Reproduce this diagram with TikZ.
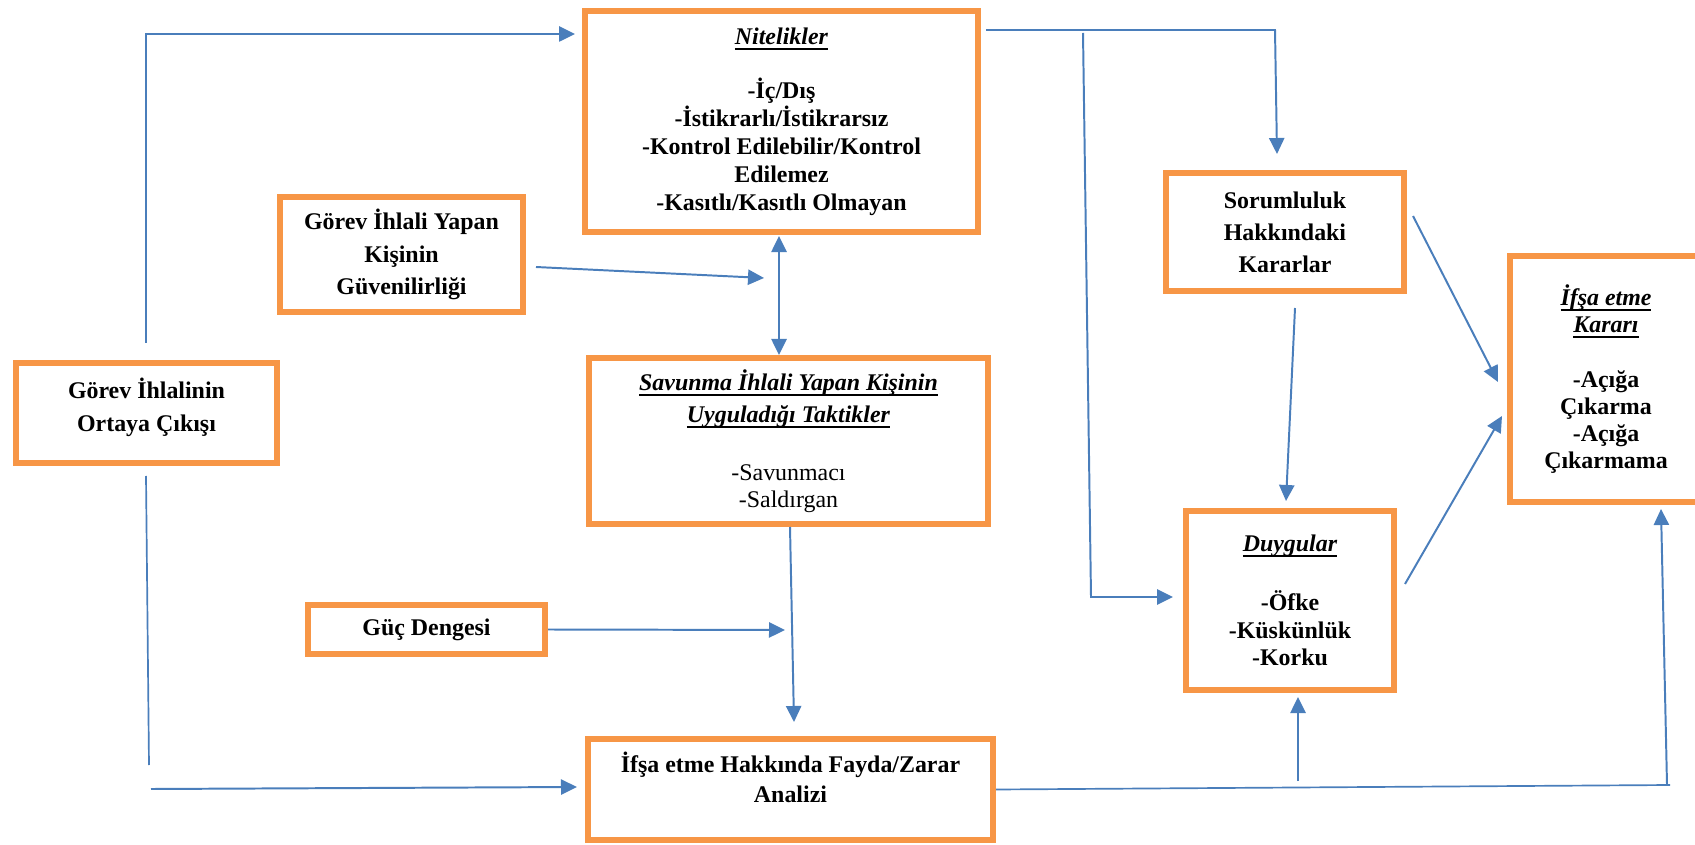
\documentclass[tikz,border=0pt]{standalone}
\usepackage{fontspec}
\setmainfont{Liberation Serif}
\usetikzlibrary{arrows.meta}

\definecolor{turuncu}{RGB}{247,150,70}
\definecolor{mavi}{RGB}{74,126,187}
\newsavebox{\baslikkutu}
\newcommand{\baslik}[1]{\sbox{\baslikkutu}{\textit{#1}}%
  \rlap{\vrule width \wd\baslikkutu height -2.6pt depth 4.0pt}\usebox{\baslikkutu}}

\begin{document}
\begin{tikzpicture}[x=0.025cm,y=-0.025cm,
  >={Triangle[length=0.4cm,width=0.38cm]},
  kutu/.style={draw=turuncu,line width=0.15cm,align=center,inner sep=0pt,
    font=\fontsize{17}{19.9}\selectfont\bfseries},
  genis/.style={font=\fontsize{17}{23.2}\selectfont\bfseries},
  ok/.style={->,draw=mavi,line width=1.4pt},
  cizgi/.style={draw=mavi,line width=1.2pt}]

  \useasboundingbox (0,0) rectangle (1695,845);

  % kutular
  \node[kutu,minimum width=9.825cm,minimum height=5.525cm] (nit) at (781.5,121.5)
    {\baslik{Nitelikler}\\[0.65cm]-İç/Dış\\-İstikrarlı/İstikrarsız\\
     -Kontrol Edilebilir/Kontrol\\Edilemez\\-Kasıtlı/Kasıtlı Olmayan};
  \node[kutu,genis,minimum width=6.075cm,minimum height=2.875cm] (guv) at (401.5,254.5)
    {Görev İhlali Yapan\\Kişinin\\Güvenilirliği};
  \node[kutu,genis,minimum width=6.525cm,minimum height=2.5cm] (ort) at (146.5,413)
    {Görev İhlalinin\\Ortaya Çıkışı\\[-0.4cm]\mbox{}};
  \node[kutu,font=\fontsize{17}{19.2}\selectfont\bfseries,
    minimum width=9.975cm,minimum height=4.15cm] (sav) at (788.5,441)
    {\baslik{Savunma İhlali Yapan Kişinin}\\[0.125cm]\baslik{Uyguladığı Taktikler}\\[0.775cm]
     \textmd{-Savunmacı}\\\textmd{-Saldırgan}};
  \node[kutu,minimum width=5.925cm,minimum height=1.225cm] (guc) at (426.5,629.5)
    {Güç Dengesi};
  \node[kutu,font=\fontsize{17}{21.3}\selectfont\bfseries,
    minimum width=10.125cm,minimum height=2.525cm] (hak) at (790.5,789.5)
    {İfşa etme Hakkında Fayda/Zarar\\Analizi\\[-0.15cm]\mbox{}};
  \node[kutu,font=\fontsize{17}{22.8}\selectfont\bfseries,
    minimum width=5.95cm,minimum height=2.95cm] (sor) at (1285,232)
    {Sorumluluk\\Hakkındaki\\Kararlar};
  \node[kutu,font=\fontsize{17}{19.5}\selectfont\bfseries,
    minimum width=5.2cm,minimum height=4.475cm] (duy) at (1290,600.5)
    {\baslik{Duygular}\\[0.79cm]-Öfke\\-Küskünlük\\-Korku};
  \node[kutu,font=\fontsize{17}{19.2}\selectfont\bfseries,
    minimum width=4.8cm,minimum height=6.15cm] (kar) at (1606,379)
    {\baslik{İfşa etme}\\\baslik{Kararı}\\[0.7cm]-Açığa\\Çıkarma\\-Açığa\\Çıkarmama};

  % ok uclari
  \coordinate (ortUst) at (146,343);
  \coordinate (nitSol) at (575,34);
  \coordinate (ortAlt) at (146,476);
  \coordinate (solAlt) at (149,765);
  \coordinate (hakSolBas) at (151,789);
  \coordinate (hakSol) at (577,787);
  \coordinate (guvSag) at (536,267);
  \coordinate (guvUc) at (764,278);
  \coordinate (nitAlt) at (779,236);
  \coordinate (savUst) at (779,355);
  \coordinate (savAlt) at (790,527);
  \coordinate (hakUst) at (794,722);
  \coordinate (gucUc) at (785,630);
  \coordinate (nitSag) at (986,30);
  \coordinate (sagUst) at (1275,30);
  \coordinate (sorUst) at (1277,154);
  \coordinate (dalUst) at (1083,33);
  \coordinate (dalAlt) at (1091,597);
  \coordinate (duySol) at (1173,597);
  \coordinate (sorAlt) at (1295,308);
  \coordinate (duyUst) at (1286,501);
  \coordinate (sorSag) at (1413,216);
  \coordinate (karSol1) at (1498,382);
  \coordinate (duySag) at (1405,584);
  \coordinate (karSol2) at (1502,416);
  \coordinate (altSag) at (1670,785);
  \coordinate (duyAltBas) at (1298,781);
  \coordinate (duyAlt) at (1298,697);
  \coordinate (karAltBas) at (1667,785);
  \coordinate (karAlt) at (1661,509);

  \draw[ok] (ortUst) |- (nitSol);
  \draw[cizgi] (ortAlt) -- (solAlt);
  \draw[ok] (hakSolBas) -- (hakSol);
  \draw[ok] (guvSag) -- (guvUc);
  \draw[ok,<->] (nitAlt) -- (savUst);
  \draw[ok] (savAlt) -- (hakUst);
  \draw[ok] (guc.east) -- (gucUc);
  \draw[ok] (nitSag) -- (sagUst) -- (sorUst);
  \draw[ok] (dalUst) -- (dalAlt) -- (duySol);
  \draw[ok] (sorAlt) -- (duyUst);
  \draw[ok] (sorSag) -- (karSol1);
  \draw[ok] (duySag) -- (karSol2);
  \draw[cizgi] (hak.east) -- (altSag);
  \draw[ok] (duyAltBas) -- (duyAlt);
  \draw[ok] (karAltBas) -- (karAlt);

\end{tikzpicture}
\end{document}
